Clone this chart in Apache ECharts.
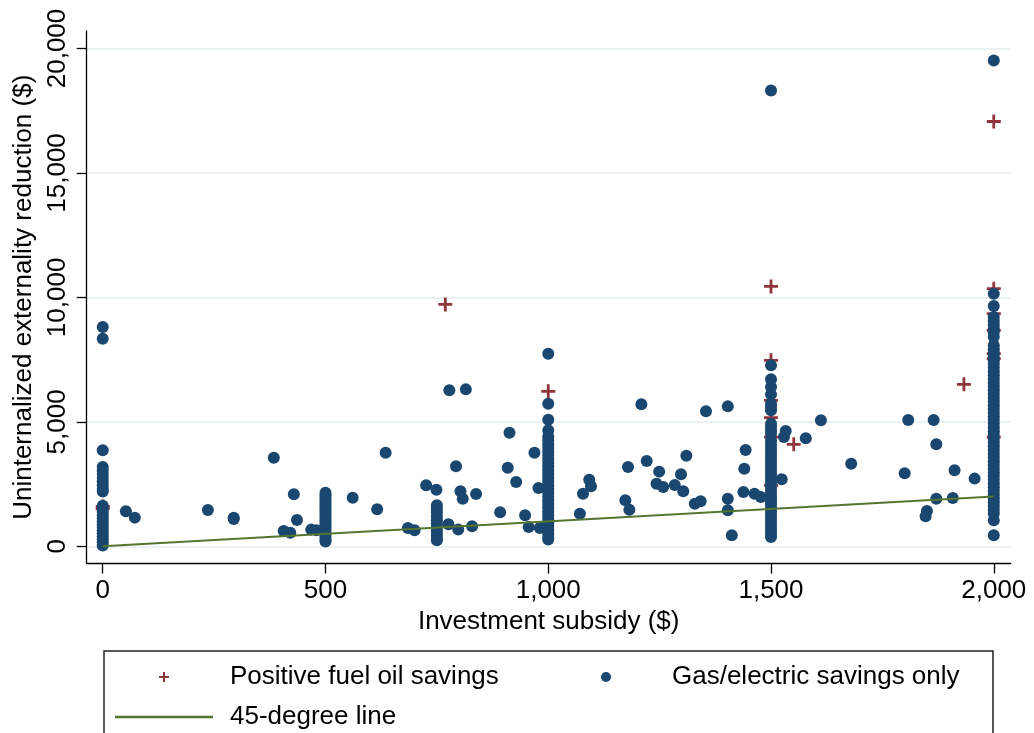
<!DOCTYPE html>
<html>
<head>
<meta charset="utf-8">
<script src="https://cdn.jsdelivr.net/npm/echarts@6/dist/echarts.min.js"></script>
<style>
html,body{margin:0;padding:0;background:#fff;}
#chart{width:1034px;height:733px;}
</style>
</head>
<body>
<div id="chart"></div>
<script>
// ---- Data ----
const xTicks = [0, 500, 1000, 1500, 2000];
const yTicks = [0, 5000, 10000, 15000, 20000];
const seriesNames = ['Positive fuel oil savings', 'Gas/electric savings only', '45-degree line'];

// Positive fuel oil savings (plus markers) [subsidy, reduction]
const fuelOilPoints = [
  [0, 1600], [0, 1500], [769, 9719], [1000, 6225],
  [1500, 10442], [1500, 7470], [1500, 5863], [1500, 5168], [1500, 4390], [1500, 2450],
  [1551, 4096], [1933, 6506],
  [2000, 17068], [2000, 10349], [2000, 9345], [2000, 8675], [2000, 7739], [2000, 7537], [2000, 4390]
];

// Gas/electric savings only: vertical clusters at round subsidy amounts (y values)
const gasAt0 = [8807, 8341, 3855, 3185, 3050, 2900, 2750, 2600, 2450, 2300, 2200,
  1630, 1500, 1380, 1250, 1120, 1000, 880, 760, 640, 520, 400, 280, 160, 30];
const gasAt500 = [2150, 2050, 1950, 1850, 1750, 1650, 1550, 1450, 1350, 1250, 1150,
  1050, 950, 850, 750, 650, 550, 450, 350, 250, 190];
const gasAt750 = [1650, 1500, 1350, 1200, 1050, 900, 750, 600, 450, 300, 240];
const gasAt1000 = [7739, 5730, 5088, 4659, 4400, 4257, 4100, 3950, 3800, 3650, 3500, 3350,
  3200, 3050, 2900, 2750, 2600, 2450, 2300, 2150, 2000, 1850, 1700, 1550, 1400, 1250,
  1100, 950, 800, 650, 500, 350, 270];
const gasAt1500 = [18313, 7269, 6707, 6398, 6104, 5730, 5600, 5462, 4927, 4800, 4650, 4526,
  4257, 4100, 3950, 3800, 3650, 3500, 3350, 3200, 3050, 2900, 2750, 2600, 2450, 2300,
  2150, 2000, 1850, 1700, 1550, 1400, 1250, 1100, 950, 800, 650, 500, 375];
const gasAt2000 = [19518, 10148, 9652, 9209, 9050, 8900, 8750, 8600, 8406,
  8072, 7920, 7770, 7620, 7470, 7320, 7170, 7020, 6870, 6720, 6570, 6420, 6270, 6120,
  5970, 5820, 5670, 5520, 5370, 5220, 5070, 4920, 4770, 4620, 4470, 4320, 4170, 4020,
  3870, 3720, 3570, 3420, 3270, 3120, 2970, 2820, 2670, 2520, 2370, 2220, 2070, 1920,
  1770, 1620, 1470, 1313, 1044, 442];
// Gas/electric scattered points [subsidy, reduction]
const gasScattered = [
  [52, 1405], [72, 1152], [236, 1459], [294, 1152], [294, 1100], [384, 3562], [429, 2088],
  [436, 1058], [406, 615], [421, 549], [468, 670], [480, 643], [561, 1955], [616, 1486],
  [635, 3762], [913, 4566], [969, 3762], [793, 3213], [909, 3160], [1221, 3426], [1249, 3000],
  [1243, 2517], [1258, 2383], [1179, 3186], [1092, 2677], [1096, 2410], [1078, 2115],
  [928, 2584], [726, 2450], [749, 2276], [803, 2209], [808, 1915], [838, 2102], [978, 2343],
  [892, 1365], [948, 1245], [956, 776], [981, 736], [1173, 1847], [1182, 1473], [1071, 1312],
  [685, 736], [700, 643], [776, 884], [798, 670], [829, 803], [778, 6265], [815, 6305],
  [1209, 5703], [1354, 5422], [1403, 5622], [1612, 5060], [1533, 4630], [1529, 4390],
  [1578, 4337], [1680, 3321], [1443, 3867], [1440, 3120], [1310, 3642], [1298, 2891],
  [1284, 2463], [1303, 2209], [1524, 2691], [1438, 2181], [1463, 2115], [1477, 1980],
  [1329, 1713], [1342, 1807], [1403, 1915], [1403, 1446], [1412, 442], [1808, 5073],
  [1865, 5073], [1871, 4096], [1800, 2932], [1912, 3052], [1957, 2719], [1871, 1915],
  [1908, 1940], [1850, 1418], [1847, 1205]
];
// 45-degree reference line endpoints
const lineX = [0, 2000];
const lineY = [0, 2000];

// ---- Build chart ----
const FONT = "'Liberation Sans', Arial, Helvetica, sans-serif";
const gasPoints = []
  .concat(gasAt0.map(v => [0, v]))
  .concat(gasAt500.map(v => [500, v]))
  .concat(gasAt750.map(v => [750, v]))
  .concat(gasAt1000.map(v => [1000, v]))
  .concat(gasAt1500.map(v => [1500, v]))
  .concat(gasAt2000.map(v => [2000, v]))
  .concat(gasScattered);
const linePoints = lineX.map((x, i) => [x, lineY[i]]);
const fmt = v => Number(v).toLocaleString('en-US');
const PLUS = 'path://M5.2,0H7.8V5.2H13V7.8H7.8V13H5.2V7.8H0V5.2H5.2Z';
const LINE_ICON = 'path://M0,0H100V2.6H0Z';

const chart = echarts.init(document.getElementById('chart'), null, {renderer: 'canvas'});
chart.setOption({
  animation: false,
  backgroundColor: '#ffffff',
  textStyle: {fontFamily: FONT},
  grid: {left: 86.7, right: 23.3, top: 31, bottom: 169.5, containLabel: false},
  xAxis: {
    type: 'value', min: -36, max: 2038,
    name: 'Investment subsidy ($)', nameLocation: 'middle', nameGap: 44,
    nameTextStyle: {fontSize: 26, color: '#000', fontFamily: FONT},
    axisLine: {show: true, onZero: false, lineStyle: {color: '#000', width: 1.3}},
    axisTick: {show: true, customValues: xTicks, length: 10, lineStyle: {color: '#000', width: 1.3}},
    axisLabel: {customValues: xTicks, formatter: fmt, fontSize: 26, color: '#000', margin: 14, fontFamily: FONT},
    splitLine: {show: false}
  },
  yAxis: {
    type: 'value', min: -691, max: 20703,
    name: 'Uninternalized externality reduction ($)', nameLocation: 'middle', nameGap: 46,
    nameTextStyle: {fontSize: 26, color: '#000', fontFamily: FONT},
    axisLine: {show: true, onZero: false, lineStyle: {color: '#000', width: 1.3}},
    axisTick: {show: true, customValues: yTicks, length: 10, lineStyle: {color: '#000', width: 1.3}},
    axisLabel: {customValues: yTicks, formatter: fmt, rotate: 90, fontSize: 26, color: '#000', margin: 16, fontFamily: FONT},
    splitLine: {show: true, lineStyle: {color: '#eaf2f3', width: 2}}
  },
  legend: {
    left: 115, top: 664, width: 940, padding: 0, itemGap: 14,
    itemWidth: 98, itemHeight: 10,
    formatter: name => '{a|' + name + '}',
    textStyle: {
      fontSize: 26, color: '#000', fontFamily: FONT, padding: [0, 0, 0, 12], lineHeight: 24,
      rich: {a: {width: 357, fontSize: 26, color: '#000', fontFamily: FONT, lineHeight: 24}}
    },
    data: [
      {name: seriesNames[0]},
      {name: seriesNames[1]},
      {name: seriesNames[2], icon: LINE_ICON}
    ]
  },
  graphic: [{
    type: 'rect', silent: true,
    shape: {x: 104, y: 651, width: 889, height: 150},
    style: {fill: 'none', stroke: '#222', lineWidth: 1.5}
  }],
  series: [
    {
      name: seriesNames[0], type: 'scatter', data: fuelOilPoints,
      symbol: PLUS, symbolSize: 14,
      itemStyle: {color: '#90353b', opacity: 1}
    },
    {
      name: seriesNames[1], type: 'scatter', data: gasPoints,
      symbol: 'circle', symbolSize: 12,
      itemStyle: {color: '#1a476f', opacity: 1}
    },
    {
      name: seriesNames[2], type: 'line', data: linePoints,
      symbol: 'none', showSymbol: false, lineStyle: {color: '#55752f', width: 2},
      itemStyle: {color: '#55752f'}
    }
  ]
});
</script>
</body>
</html>
